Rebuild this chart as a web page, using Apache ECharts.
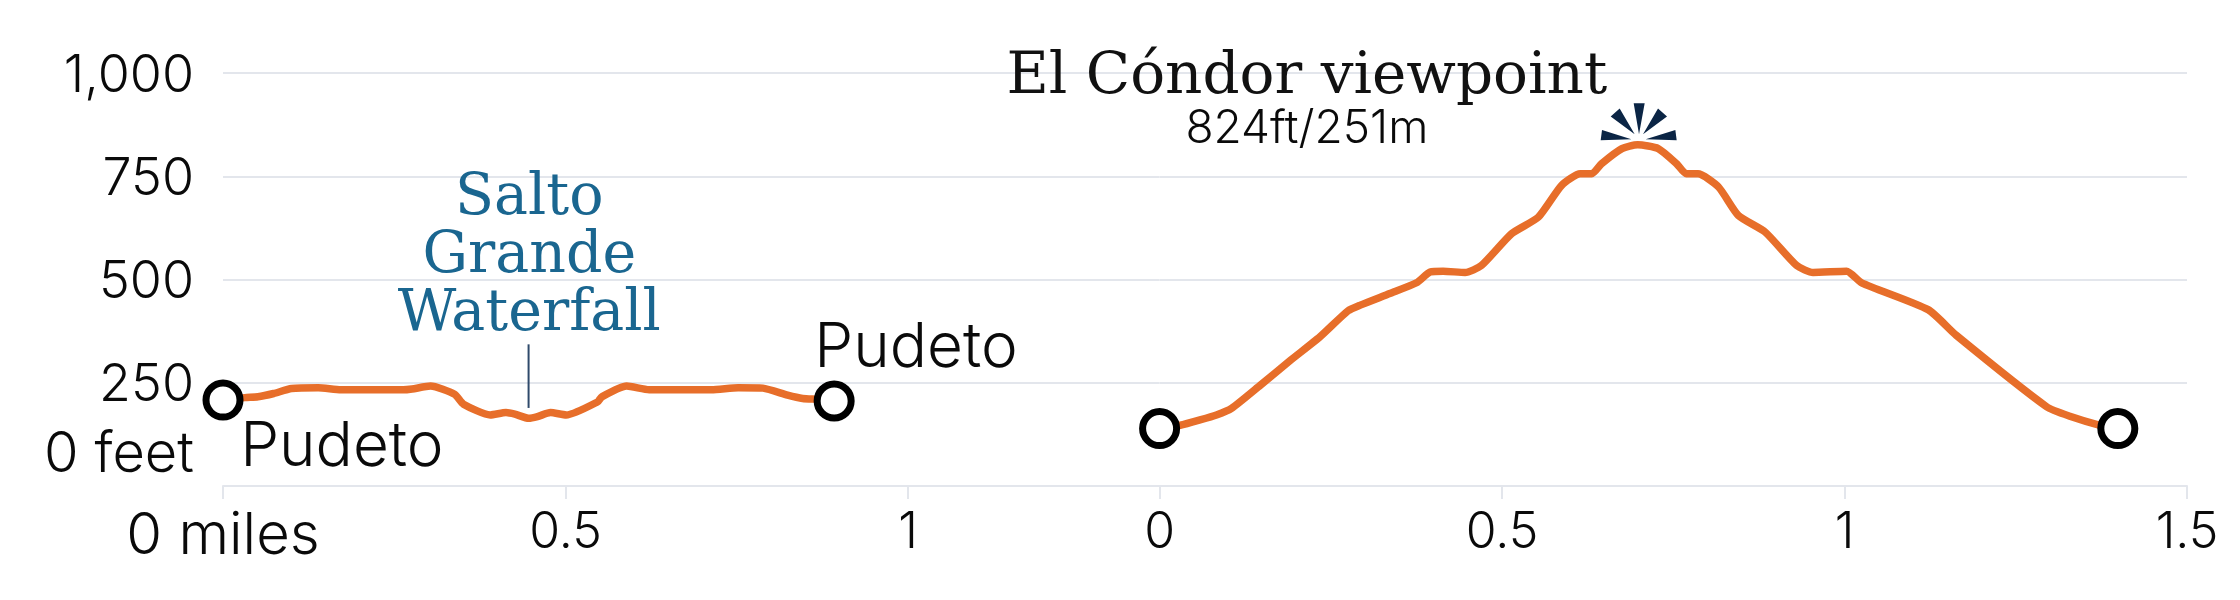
<!DOCTYPE html>
<html><head><meta charset="utf-8">
<style>html,body{margin:0;padding:0;background:#fff}#c{width:2240px;height:600px}</style>
<script src="https://cdn.jsdelivr.net/npm/echarts@6/dist/echarts.min.js"></script>
</head><body><div id="c"></div>
<script>
const yTicks = [0, 250, 500, 750, 1000];
const firstMiles = [0,.032,.051,.074,.100,.139,.172,.263,.276,.303,.338,.351,.390,.413,.426,.446,.459,.478,.501,.547,.553,.589,.622,.713,.752,.788,.824,.846,.869,.892];
const firstFeet  = [208,214,216,224,236,238,233,233,235,242,222,198,172,178,174,164,168,178,172,204,216,242,233,233,238,237,220,212,210,206];
const secondMiles = [0,.030,.059,.083,.105,.147,.190,.234,.275,.293,.336,.375,.395,.414,.446,.470,.514,.553,.587,.614,.631,.645,.675,.698,.728,.755,.769,.786,.816,.845,.884,.930,.954,1.003,1.025,1.122,1.163,1.295,1.329,1.373,1.399];
const secondFeet  = [139,147,160,172,188,244,303,361,424,438,466,492,518,520,517,534,611,651,728,756,756,780,817,826,817,780,756,756,724,655,615,534,517,520,492,427,365,192,169,147,139];
const peak = [0.698, 826];
const waterfallLine = [[0.446, 343], [0.446, 189]];
const firstNotes = [
  {text:'Pudeto', x:0.025, y:94},
  {text:'Pudeto', x:0.863, y:334}
];
const waterfallNote = {text:'Salto\nGrande\nWaterfall', x:0.447, y:554};
const peakNote = {text:'El Cóndor viewpoint', x:0.215, y:989};
const peakSub = {text:'824ft/251m', x:0.215, y:863};

const sans = 'Inter', serif = '"DejaVu Serif"';
const orange = '#e76e2a', grid = '#e3e6ec', ink = '#0a0a0a';
const burst = 'path://M99 0 L132 0 L115 92 Z M30 39 L57 15 L102 92 Z M172 15 L199 39 L127 92 Z M4 79 L0 110 L92 107 Z M224 79 L228 110 L135 107 Z';

const xAxisBase = {
  type:'value', min:0, interval:0.5, position:'bottom',
  axisLine:{show:true,onZero:false,lineStyle:{color:grid,width:2}},
  axisTick:{show:true,length:13,lineStyle:{color:grid,width:2}},
  splitLine:{show:false},
  axisLabel:{fontFamily:sans,fontWeight:300,fontSize:50,color:ink,margin:22,hideOverlap:false}
};
const yAxisBase = {
  type:'value', min:0, max:1000, interval:250,
  axisLine:{show:false}, axisTick:{show:false},
  splitLine:{show:true,lineStyle:{color:grid,width:2}}
};
function noteSeries(g, note, style){
  return {type:'scatter',xAxisIndex:g,yAxisIndex:g,symbol:'circle',symbolSize:1,silent:true,z:6,
    itemStyle:{color:'transparent',opacity:1},
    data:[[note.x,note.y]],
    label:Object.assign({show:true,formatter:note.text,position:'inside',color:ink},style)};
}
const markerStyle = {color:'#fff',borderColor:'#000',borderWidth:7,opacity:1};
const chart = echarts.init(document.getElementById('c'),null,{renderer:'canvas'});
chart.setOption({
  animation:false, backgroundColor:'#fff',
  grid:[
    {left:223,width:936.6,top:73,height:413},
    {left:1159.6,width:1027.4,top:73,height:413}
  ],
  xAxis:[
    Object.assign({},xAxisBase,{gridIndex:0,max:1.367,axisLabel:Object.assign({},xAxisBase.axisLabel,{showMaxLabel:false,
      formatter:v=>v===0?'{m|0 miles}':String(v),
      rich:{m:{fontFamily:sans,fontWeight:300,fontSize:58,color:ink}}})}),
    Object.assign({},xAxisBase,{gridIndex:1,max:1.5,axisLabel:Object.assign({},xAxisBase.axisLabel,{formatter:v=>String(v)})})
  ],
  yAxis:[
    Object.assign({},yAxisBase,{gridIndex:0,axisLabel:{show:true,margin:29,fontFamily:sans,fontWeight:300,fontSize:52,color:ink,padding:[6,0,0,0],
      formatter:v=>v===0?'{zero|0 feet}':v.toLocaleString('en-US'),
      rich:{zero:{fontFamily:sans,fontWeight:300,fontSize:56,color:ink,padding:[0,0,68,0]}}}}),
    Object.assign({},yAxisBase,{gridIndex:1,axisLabel:{show:false}})
  ],
  series:[
    {type:'line',xAxisIndex:0,yAxisIndex:0,data:firstMiles.map((m,i)=>[m,firstFeet[i]]),showSymbol:false,smooth:0.2,
      lineStyle:{color:orange,width:7.5,join:'round',cap:'round'},z:3},
    {type:'line',xAxisIndex:1,yAxisIndex:1,data:secondMiles.map((m,i)=>[m,secondFeet[i]]),showSymbol:false,smooth:0.2,
      lineStyle:{color:orange,width:7.5,join:'round',cap:'round'},z:3},
    {type:'line',xAxisIndex:0,yAxisIndex:0,data:waterfallLine,showSymbol:false,
      lineStyle:{color:'#2f4a6b',width:2},z:2},
    {type:'scatter',xAxisIndex:0,yAxisIndex:0,symbol:'circle',symbolSize:34,itemStyle:markerStyle,z:5,
      data:[[firstMiles[0],firstFeet[0]],[firstMiles[firstMiles.length-1],firstFeet[firstFeet.length-1]]]},
    {type:'scatter',xAxisIndex:1,yAxisIndex:1,symbol:'circle',symbolSize:34,itemStyle:markerStyle,z:5,
      data:[[secondMiles[0],secondFeet[0]],[secondMiles[secondMiles.length-1],secondFeet[secondFeet.length-1]]]},
    {type:'scatter',xAxisIndex:1,yAxisIndex:1,symbol:burst,symbolSize:[76,37],symbolKeepAspect:false,symbolOffset:[1,-23],
      itemStyle:{color:'#0b2545',opacity:1},z:5,data:[peak]},
    ...firstNotes.map(n=>noteSeries(0,n,{fontFamily:sans,fontWeight:300,fontSize:62,align:'left',verticalAlign:'middle'})),
    noteSeries(0,waterfallNote,{fontFamily:serif,fontSize:57,lineHeight:58,color:'#1a6690',align:'center',verticalAlign:'middle'}),
    noteSeries(1,peakNote,{fontFamily:serif,fontSize:58,color:'#111',align:'center',verticalAlign:'middle'}),
    noteSeries(1,peakSub,{fontFamily:sans,fontWeight:300,fontSize:46,align:'center',verticalAlign:'middle'})
  ]
});
</script></body></html>
